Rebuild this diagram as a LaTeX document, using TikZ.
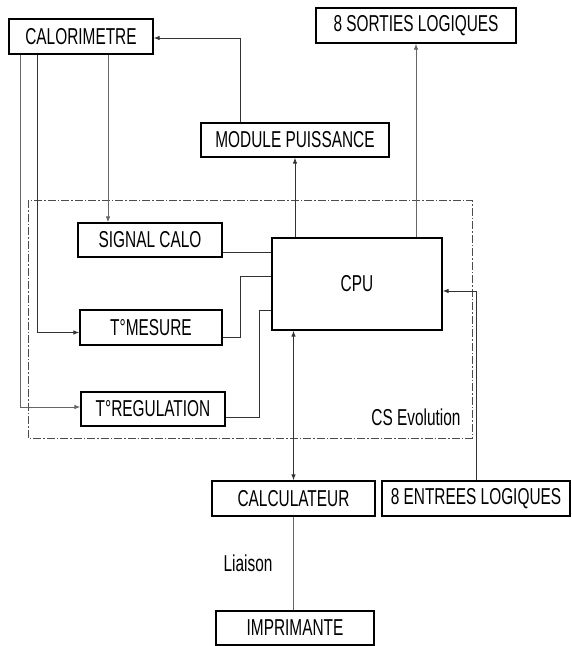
\documentclass[tikz,border=0pt]{standalone}
\usepackage{fontspec}
\setmainfont{Liberation Sans}[FakeStretch=0.67]
\usetikzlibrary{arrows.meta}
\begin{document}
\begin{tikzpicture}[x=1pt,y=-1pt,
  every node/.style={font=\fontsize{23}{27}\selectfont},
  box/.style={draw=black,line width=1.3pt,inner sep=0pt},
  conn/.style={draw=black!80,line width=0.9pt},
  lite/.style={draw=black!60,line width=0.8pt},
  arr/.style={-{Latex[length=6pt,width=4.5pt]}},
  darr/.style={{Latex[length=6pt,width=4.5pt]}-{Latex[length=6pt,width=4.5pt]}},
  frame/.style={draw=black!70,line width=0.9pt,dash pattern=on 8pt off 2pt on 1.5pt off 2pt}]
\useasboundingbox (0,0) rectangle (572,646);
\fill[white] (0,0) rectangle (572,646);

% dashed CS Evolution frame
\draw[frame] (28,200) rectangle (472,438);

\node[box,minimum width=144pt,minimum height=35pt] (calo) at (81,36.5) {CALORIMETRE};
\node[box,minimum width=200pt,minimum height=35pt] (sort) at (416,25.5) {8 SORTIES LOGIQUES};
\node[box,minimum width=188pt,minimum height=34pt] (mod) at (295,140) {MODULE PUISSANCE};
\node[box,minimum width=144pt,minimum height=34pt] (sig) at (150,240) {SIGNAL CALO};
\node[box,minimum width=142pt,minimum height=35pt] (mes) at (151,327.5) {T°MESURE};
\node[box,minimum width=144pt,minimum height=34pt] (reg) at (153,409) {T°REGULATION};
\node[box,minimum width=170pt,minimum height=92pt] (cpu) at (357,284) {CPU};
\node[box,minimum width=163pt,minimum height=35pt] (calc) at (293.5,498.5) {CALCULATEUR};
\node[box,minimum width=188pt,minimum height=35pt] (ent) at (476,498.5) {8 ENTREES LOGIQUES};
\node[box,minimum width=158pt,minimum height=34pt] (impr) at (295,628) {IMPRIMANTE};

\node (cs) at (416,417) {CS Evolution};
\node (liai) at (248,563) {Liaison};

% MODULE PUISSANCE -> CALORIMETRE
\draw[conn,arr] ([xshift=-55pt]mod.north) |- ([yshift=-1.5pt]calo.east);
% CPU -> MODULE PUISSANCE
\draw[conn,arr] (cpu.north -| mod.south) -- (mod.south);
% CPU -> 8 SORTIES
\draw[lite,arr] (cpu.north -| sort.south) -- (sort.south);

% CALORIMETRE -> inputs
\coordinate (c1) at ([xshift=27pt]calo.south);
\coordinate (c2) at ([xshift=-44pt]calo.south);
\coordinate (c3) at ([xshift=-61pt]calo.south);
\draw[lite,arr] (c1) -- (c1 |- sig.north);
\draw[conn,arr] (c2) |- ([yshift=-5pt]mes.west);
\draw[lite,arr] (c3) |- ([yshift=2pt]reg.west);

% inputs -> CPU
\coordinate (s1) at ([yshift=-12pt]sig.east);
\draw[conn] (s1) -- (s1 -| cpu.west);
\coordinate (m1) at ([yshift=-9.5pt]mes.east);
\coordinate (m2) at ([yshift=8pt]cpu.west);
\draw[conn] (m1) -- ++(18,0) |- (m2);
\coordinate (r1) at ([yshift=-8pt]reg.east);
\coordinate (r2) at ([yshift=-26pt]cpu.west);
\draw[conn] (r1) -- ++(34,0) |- (r2);

% CPU <-> CALCULATEUR
\draw[conn,darr] (cpu.south -| calc.north) -- (calc.north);
% CALCULATEUR -- IMPRIMANTE
\draw[lite] (calc.south) -- (calc.south |- impr.north);
% 8 ENTREES -> CPU
\draw[conn,arr] (ent.north) |- ([yshift=-7pt]cpu.east);
\end{tikzpicture}
\end{document}
